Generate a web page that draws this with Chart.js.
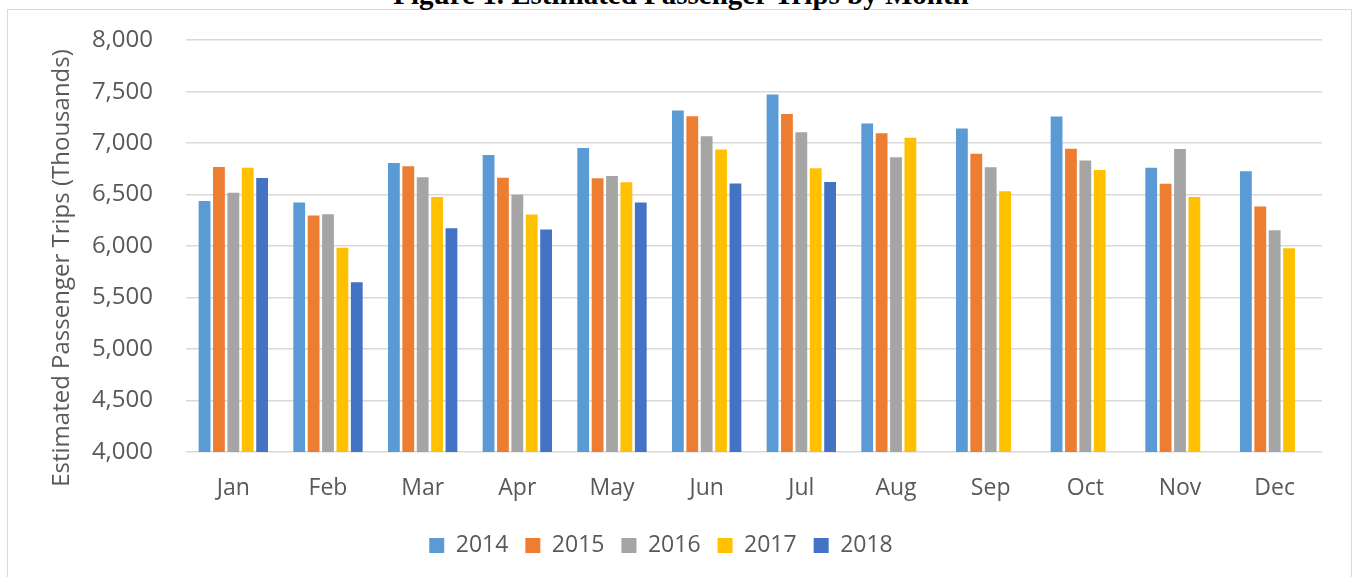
<!DOCTYPE html>
<html>
<head>
<meta charset="utf-8">
<script src="https://cdn.jsdelivr.net/npm/chart.js@4.4.1/dist/chart.umd.min.js"></script>
<style>
  html, body { margin: 0; padding: 0; background: #fff; overflow: hidden; }
  #wrap { position: relative; width: 1353px; height: 577px; }
  #frame {
    position: absolute; left: 7px; top: 9px; width: 1345px; height: 620px;
    box-sizing: border-box; border: 1px solid #d9d9d9;
  }
  #fig {
    position: absolute; left: 0; top: -20px; width: 1362px; text-align: center;
    font: bold 29px/29px "Liberation Serif", "Times New Roman", serif; color: #000;
  }
  #chart { position: absolute; left: 0; top: 0; }
</style>
</head>
<body>
<div id="wrap">
  <div id="frame"></div>
  <div id="fig">Figure 1. Estimated Passenger Trips by Month</div>
  <canvas id="chart" width="1353" height="577"></canvas>
</div>
<script>
const months = ["Jan", "Feb", "Mar", "Apr", "May", "Jun", "Jul", "Aug", "Sep", "Oct", "Nov", "Dec"];
const years = ["2014", "2015", "2016", "2017", "2018"];

// estimated passenger trips, thousands
const trips2014 = [6437, 6424, 6807, 6885, 6954, 7318, 7472, 7190, 7143, 7258, 6761, 6726];
const trips2015 = [6768, 6297, 6775, 6664, 6658, 7262, 7282, 7097, 6897, 6946, 6605, 6385];
const trips2016 = [6518, 6310, 6668, 6498, 6680, 7066, 7106, 6863, 6766, 6832, 6942, 6153];
const trips2017 = [6761, 5985, 6476, 6307, 6619, 6939, 6755, 7053, 6532, 6738, 6476, 5979];
const trips2018 = [6661, 5650, 6173, 6161, 6424, 6607, 6623, null, null, null, null, null];

const yTicks = [4000, 4500, 5000, 5500, 6000, 6500, 7000, 7500, 8000];

const colors = ["#5b9bd5", "#ed7d31", "#a5a5a5", "#ffc000", "#4472c4"];
const series = [trips2014, trips2015, trips2016, trips2017, trips2018];

const textColor = "#595959";
const fontFamily = "'Open Sans', 'Noto Sans', sans-serif";

// y axis title drawn by hand so it sits where Excel puts it
const axisTitle = {
  id: "axisTitle",
  afterDraw(chart) {
    const ctx = chart.ctx;
    ctx.save();
    ctx.translate(62, 268);
    ctx.rotate(-Math.PI / 2);
    ctx.font = "24px " + fontFamily;
    ctx.fillStyle = textColor;
    ctx.textAlign = "center";
    ctx.textBaseline = "middle";
    ctx.fillText("Estimated Passenger Trips (Thousands)", 0, 0);
    ctx.restore();
  }
};

new Chart(document.getElementById("chart"), {
  type: "bar",
  data: {
    labels: months,
    datasets: series.map((vals, i) => ({
      label: years[i],
      data: vals,
      backgroundColor: colors[i],
      borderWidth: 0,
      barPercentage: 0.82,
      categoryPercentage: 0.76,
    })),
  },
  options: {
    responsive: false,
    animation: false,
    layout: { padding: { top: 14, right: 31, bottom: 10, left: 0 } },
    plugins: {
      tooltip: { enabled: false },
      legend: {
        position: "bottom",
        labels: {
          boxWidth: 15,
          boxHeight: 15,
          padding: 17,
          color: textColor,
          font: { family: fontFamily, size: 23 },
        },
      },
    },
    scales: {
      x: {
        grid: { display: false },
        border: { display: false },
        ticks: {
          color: textColor,
          padding: 15,
          font: { family: fontFamily, size: 23 },
        },
        afterFit(scale) { scale.height = 65; },
      },
      y: {
        min: 4000,
        max: 8000,
        afterBuildTicks(scale) { scale.ticks = yTicks.map((v) => ({ value: v })); },
        grid: { color: "#d9d9d9", lineWidth: 1.6, drawTicks: false },
        border: { display: false },
        ticks: {
          color: textColor,
          padding: 33,
          // small line height keeps the top label overhang from pushing the plot down
          font: { family: fontFamily, size: 24, lineHeight: 0.6 },
          callback: (v) => v.toLocaleString("en-US"),
        },
        afterFit(scale) { scale.width = 186; },
      },
    },
  },
  plugins: [axisTitle],
});
</script>
</body>
</html>
